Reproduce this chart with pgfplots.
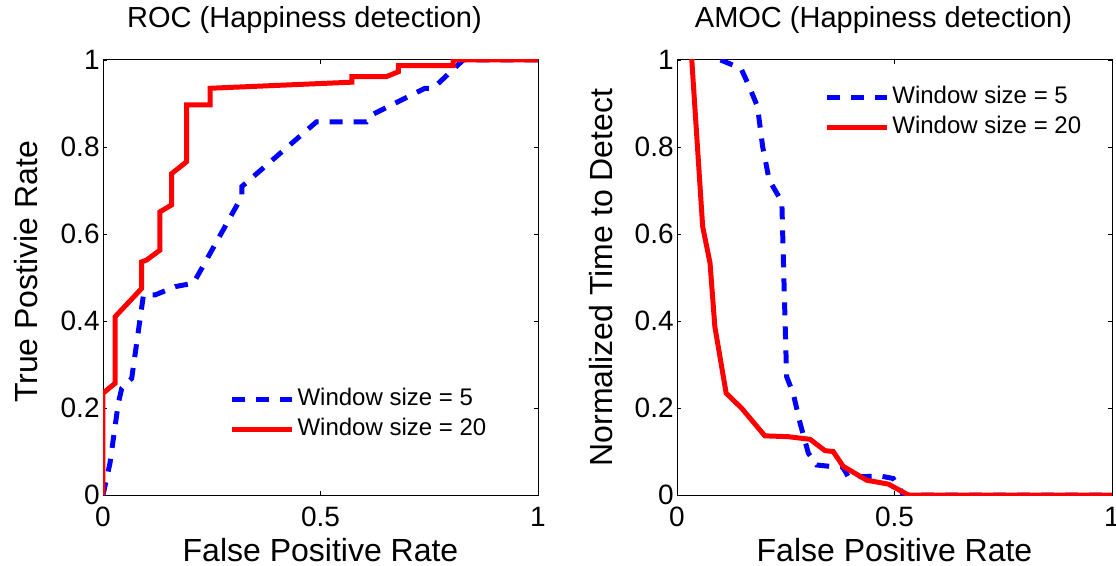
\documentclass[border=0pt]{standalone}
\usepackage{pgfplots}
\pgfplotsset{compat=1.18}
\usepackage{fontspec}
\setmainfont{Liberation Sans}

\pgfplotstableread{
x y
0 0
0 0.234
0.028 0.257
0.028 0.41
0.089 0.475
0.089 0.536
0.1 0.54
0.131 0.563
0.131 0.651
0.158 0.667
0.158 0.739
0.192 0.766
0.192 0.897
0.246 0.897
0.246 0.935
0.572 0.949
0.572 0.962
0.652 0.962
0.679 0.973
0.679 0.987
0.805 0.987
0.805 1
1 1
}\rocred

\pgfplotstableread{
x y
0 0
0.016 0.073
0.035 0.21
0.043 0.245
0.066 0.268
0.093 0.46
0.12 0.46
0.166 0.479
0.208 0.487
0.319 0.686
0.319 0.709
0.491 0.858
0.606 0.858
0.618 0.874
0.74 0.935
0.759 0.935
0.828 1
1 1
}\rocblue

\pgfplotstableread{
x y
0.032 1.05
0.034 1
0.059 0.617
0.076 0.533
0.087 0.387
0.113 0.234
0.149 0.199
0.202 0.136
0.256 0.134
0.306 0.128
0.34 0.102
0.359 0.1
0.382 0.066
0.436 0.034
0.486 0.025
0.532 0
1 0
}\amocred

\pgfplotstableread{
x y
0.10 1
0.147 0.981
0.166 0.939
0.185 0.893
0.197 0.8
0.212 0.724
0.241 0.674
0.246 0.487
0.252 0.272
0.267 0.234
0.283 0.165
0.302 0.096
0.321 0.069
0.36 0.065
0.38 0.065
0.394 0.042
0.471 0.043
0.497 0.038
0.516 0.008
0.52 0
1 0
}\amocblue

\pgfplotsset{
  every axis title shift/.style={},
  mystyle/.style={
    scale only axis, width=217.5bp, height=217.5bp,
    xmin=0, xmax=1, ymin=0, ymax=1,
    xtick={0,0.5,1}, ytick={0,0.2,0.4,0.6,0.8,1},
    tick align=inside, major tick length=2bp,
    tick style={black, line width=0.4pt},
    axis line style={line width=0.5pt},
    /pgf/number format/assume math mode=true,
    ticklabel style={font=\fontsize{14bp}{16bp}\selectfont},
    xticklabel style={inner sep=0pt, yshift=-6bp},
    yticklabel style={inner sep=0pt, xshift=-1.5bp},
    label style={font=\fontsize{16bp}{18bp}\selectfont},
    title style={font=\fontsize{14.5bp}{17bp}\selectfont, anchor=base, at={(axis description cs:0.5,1)}, yshift=10.5bp},
    xlabel style={at={(axis description cs:0.5,-0.154)}, anchor=base},
    legend style={draw=none, fill=none, inner sep=0pt, row sep=0pt,
      font=\fontsize{12bp}{14bp}\selectfont,
      nodes={inner sep=1.5bp, text height=9bp, text depth=3bp}},
    legend cell align=left,
    legend image code/.code={\draw[#1] (0bp,0bp) -- (30bp,0bp);},
    bluel/.style={blue, line width=2.5pt, dash pattern=on 6.5bp off 5.5bp},
    redl/.style={red, line width=2.5pt},
  }
}

\begin{document}
\begin{tikzpicture}
\path[use as bounding box] (-51.5bp,-35.5bp) rectangle (506.5bp,247.5bp);
\begin{axis}[mystyle, at={(0bp,0bp)}, anchor=south west,
  title={ROC (Happiness detection)},
  title style={xshift=-8bp},
  xlabel={False Positive Rate}, ylabel={True Postivie Rate},
  ylabel style={at={(axis description cs:-0.1517,0.513)}, anchor=base},
  legend style={at={(axis description cs:0.29,0.184)}, anchor=west}]
\addplot[bluel] table {\rocblue};
\addplot[redl] table {\rocred};
\legend{Window size = 5, Window size = 20}
\end{axis}
\begin{axis}[mystyle, at={(287bp,0bp)}, anchor=south west,
  title={AMOC (Happiness detection)},
  title style={xshift=-5.5bp},
  xlabel={False Positive Rate}, ylabel={Normalized Time to Detect},
  ylabel style={at={(axis description cs:-0.149,0.5)}, anchor=base},
  legend style={at={(axis description cs:0.338,0.879)}, anchor=west}]
\addplot[bluel] table {\amocblue};
\addplot[redl] table {\amocred};
\legend{Window size = 5, Window size = 20}
\end{axis}
\end{tikzpicture}
\end{document}
